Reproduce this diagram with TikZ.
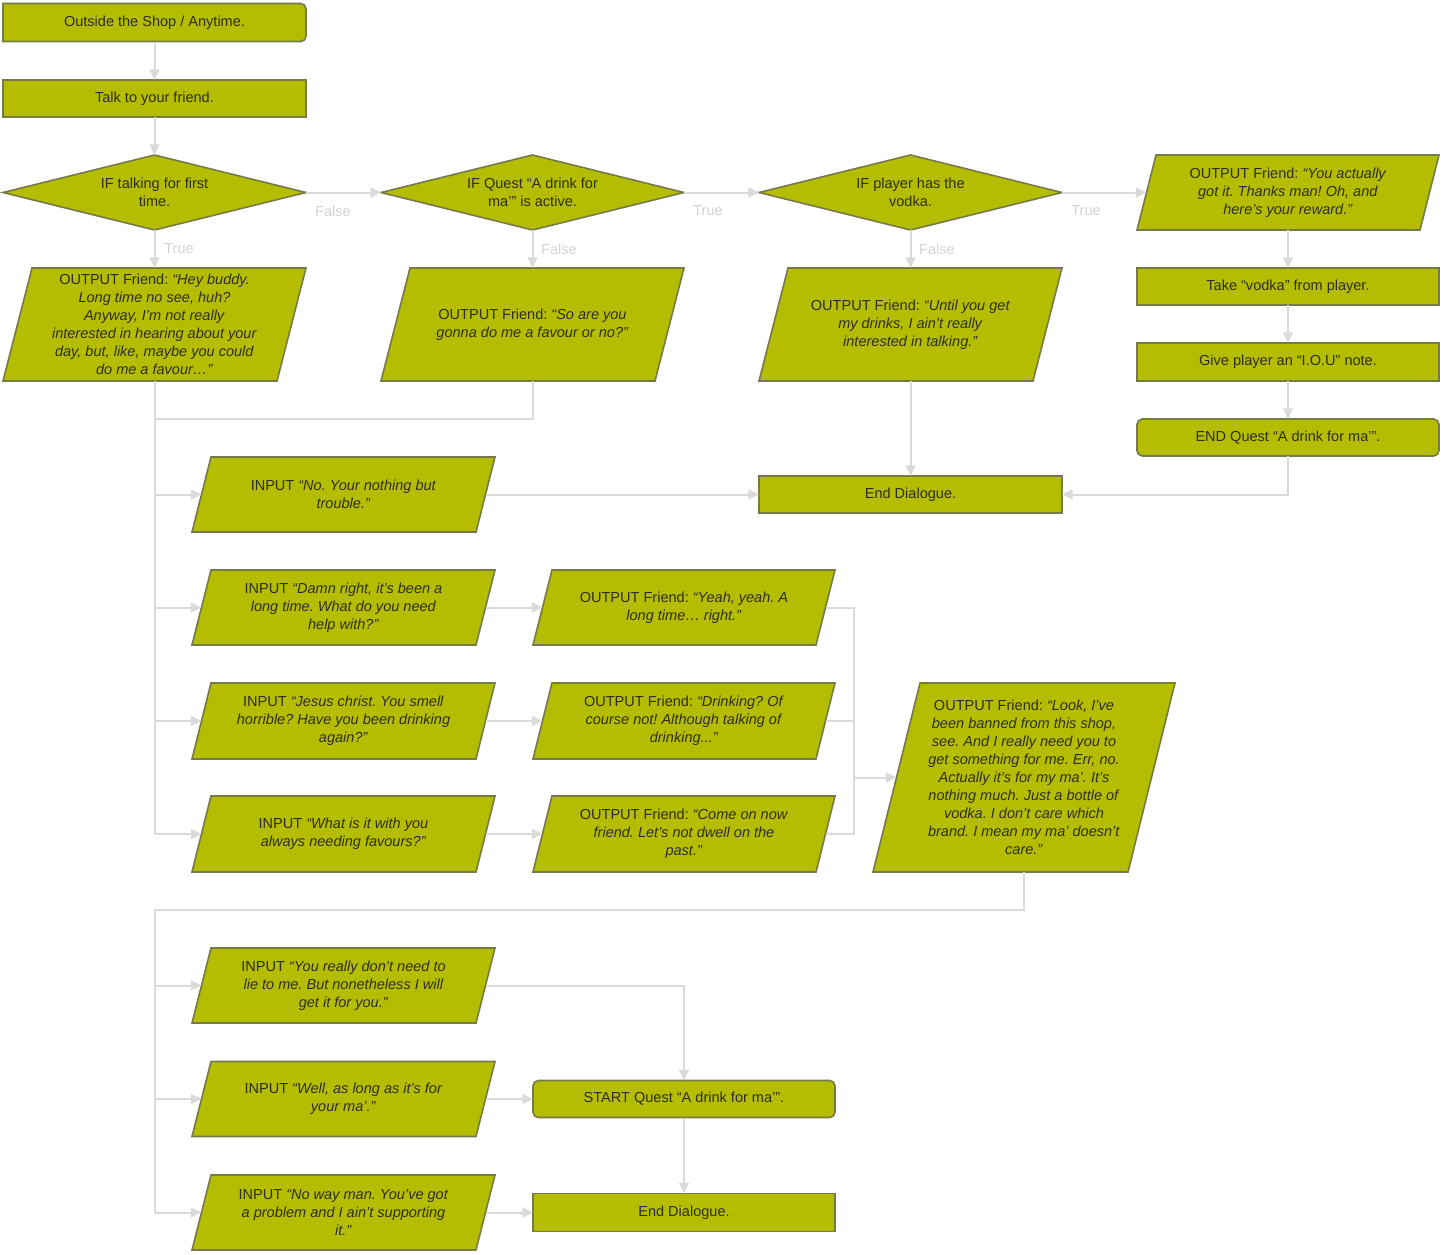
\documentclass[tikz,border=0pt]{standalone}
\usepackage{fontspec}
\setmainfont{Liberation Sans}
\usetikzlibrary{arrows.meta}
\definecolor{olivefill}{HTML}{B5BD00}
\definecolor{bord}{HTML}{767A48}
\definecolor{linec}{HTML}{DADADA}
\definecolor{labc}{HTML}{D2D2D2}
\definecolor{txt}{HTML}{2E2E22}
\pgfdeclarelayer{bg}
\pgfsetlayers{bg,main}
\frenchspacing
\newcommand\pgramof[2]{%
  \filldraw[shapeline] ([xshift=#2*0.75pt]#1.north west) -- (#1.north east) -- ([xshift=-#2*0.75pt]#1.south east) -- (#1.south west) -- cycle;}
\newcommand\diamof[1]{%
  \filldraw[shapeline] (#1.west) -- (#1.north) -- (#1.east) -- (#1.south) -- cycle;}
\tikzset{
  shapeline/.style={fill=olivefill, draw=bord, line width=1.2pt, line join=miter},
  tnode/.style={inner sep=0pt, outer sep=0pt, text=txt, font=\fontsize{10.9}{13.5}\selectfont, align=center},
  hidden/.style={tnode, minimum width=#1*0.75pt},
  rbox/.style={tnode, shapeline, minimum width=#1*0.75pt},
  conn/.style={draw=linec, line width=1.5pt},
  arr/.style={conn, -{Triangle[length=8pt,width=7.5pt]}},
  lab/.style={text=labc, font=\fontsize{10.9}{12}\selectfont, inner sep=0pt},
}
\begin{document}
\begin{tikzpicture}[x=0.75pt,y=-0.75pt]
\useasboundingbox (0,0) rectangle (1443,1254);
% top column
\node[tnode, minimum width=303*0.75pt, minimum height=38*0.75pt] (start) at (154.5,22.5) {Outside the Shop / Anytime.};
\node[rbox=303, minimum height=37*0.75pt] (talk) at (154.5,98.5) {Talk to your friend.};
\node[hidden=303, minimum height=75*0.75pt] (d1) at (154.5,192.5) {IF talking for first\\time.};
\node[hidden=303, minimum height=75*0.75pt] (d2) at (532.5,192.5) {IF Quest “A drink for\\ma’” is active.};
\node[hidden=303, minimum height=75*0.75pt] (d3) at (910.5,192.5) {IF player has the\\vodka.};
\node[hidden=302, minimum height=75*0.75pt] (oyou) at (1288,192.5) {OUTPUT Friend: \textit{“You actually}\\\textit{got it. Thanks man! Oh, and}\\\textit{here’s your reward.”}};
\node[rbox=302, minimum height=37*0.75pt] (take) at (1288,286.5) {Take “vodka” from player.};
\node[rbox=302, minimum height=38*0.75pt] (iou) at (1288,362) {Give player an “I.O.U” note.};
\node[rbox=302, minimum height=37*0.75pt, rounded corners=4pt] (endq) at (1288,437.5) {END Quest “A drink for ma’”.};
% outputs row
\node[hidden=303, minimum height=113*0.75pt] (ohey) at (154.5,324.5) {OUTPUT Friend: \textit{“Hey buddy.}\\\textit{Long time no see, huh?}\\\textit{Anyway, I’m not really}\\\textit{interested in hearing about your}\\\textit{day, but, like, maybe you could}\\\textit{do me a favour…”}};
\node[hidden=303, minimum height=113*0.75pt] (oso) at (532.5,324.5) {OUTPUT Friend: \textit{“So are you}\\\textit{gonna do me a favour or no?”}};
\node[hidden=303, minimum height=113*0.75pt] (ountil) at (910.5,324.5) {OUTPUT Friend: \textit{“Until you get}\\\textit{my drinks, I ain’t really}\\\textit{interested in talking.”}};
\node[rbox=303, minimum height=37*0.75pt] (end1) at (910.5,494.5) {End Dialogue.};
% inputs
\node[hidden=303, minimum height=75*0.75pt] (ino) at (343.5,494.5) {INPUT \textit{“No. Your nothing but}\\\textit{trouble.”}};
\node[hidden=303, minimum height=75*0.75pt] (idamn) at (343.5,607.5) {INPUT \textit{“Damn right, it’s been a}\\\textit{long time. What do you need}\\\textit{help with?”}};
\node[hidden=302, minimum height=75*0.75pt] (oyeah) at (684,607.5) {OUTPUT Friend: \textit{“Yeah, yeah. A}\\\textit{long time… right.”}};
\node[hidden=303, minimum height=76*0.75pt] (ijesus) at (343.5,721) {INPUT \textit{“Jesus christ. You smell}\\\textit{horrible? Have you been drinking}\\\textit{again?”}};
\node[hidden=302, minimum height=76*0.75pt] (odrink) at (684,721) {OUTPUT Friend: \textit{“Drinking? Of}\\\textit{course not! Although talking of}\\\textit{drinking...”}};
\node[hidden=303, minimum height=76*0.75pt] (iwhat) at (343.5,834) {INPUT \textit{“What is it with you}\\\textit{always needing favours?”}};
\node[hidden=302, minimum height=76*0.75pt] (ocome) at (684,834) {OUTPUT Friend: \textit{“Come on now}\\\textit{friend. Let’s not dwell on the}\\\textit{past.”}};
\node[hidden=302, minimum height=189*0.75pt] (olook) at (1024,777.5) {OUTPUT Friend: \textit{“Look, I’ve}\\\textit{been banned from this shop,}\\\textit{see. And I really need you to}\\\textit{get something for me. Err, no.}\\\textit{Actually it’s for my ma’. It’s}\\\textit{nothing much. Just a bottle of}\\\textit{vodka. I don’t care which}\\\textit{brand. I mean my ma’ doesn’t}\\\textit{care.”}};
\node[hidden=303, minimum height=75*0.75pt] (ireally) at (343.5,985.5) {INPUT \textit{“You really don’t need to}\\\textit{lie to me. But nonetheless I will}\\\textit{get it for you.”}};
\node[hidden=303, minimum height=75*0.75pt] (iwell) at (343.5,1099) {INPUT \textit{“Well, as long as it’s for}\\\textit{your ma’.”}};
\node[hidden=303, minimum height=75*0.75pt] (inoway) at (343.5,1212.5) {INPUT \textit{“No way man. You’ve got}\\\textit{a problem and I ain’t supporting}\\\textit{it.”}};
\node[rbox=302, minimum height=37*0.75pt, rounded corners=4pt] (startq) at (684,1099) {START Quest “A drink for ma’”.};
\node[rbox=302, minimum height=38*0.75pt] (end2) at (684,1212.5) {End Dialogue.};
% shapes in background
\begin{pgfonlayer}{bg}
  \filldraw[shapeline] (start.south west) -- (start.north west) [rounded corners=4pt] -- (start.north east) -- (start.south east) [sharp corners] -- cycle;
  \diamof{d1}\diamof{d2}\diamof{d3}
  \pgramof{oyou}{19}
  \pgramof{ohey}{29}\pgramof{oso}{29}\pgramof{ountil}{29}
  \pgramof{ino}{19}\pgramof{idamn}{19}\pgramof{ijesus}{19}\pgramof{iwhat}{19}
  \pgramof{oyeah}{19}\pgramof{odrink}{19}\pgramof{ocome}{19}
  \pgramof{olook}{47}
  \pgramof{ireally}{19}\pgramof{iwell}{19}\pgramof{inoway}{19}
\end{pgfonlayer}
% junction coordinates
\coordinate (j1) at (154.5,419);
\coordinate (mx) at (854,777.5);
\coordinate (k) at (155,910);
% connectors
\draw[arr] (start) -- (talk);
\draw[arr] (talk) -- (d1.north);
\draw[arr] (d1.east) -- (d2.west);
\draw[arr] (d2.east) -- (d3.west);
\draw[arr] (d3.east) -- ([xshift=9.5*0.75pt]oyou.west);
\draw[arr] (d1.south) -- (ohey.north);
\draw[arr] (d2.south) -- (oso.north);
\draw[arr] (d3.south) -- (ountil.north);
\draw[arr] (oyou.south) -- (take.north);
\draw[arr] (take) -- (iou);
\draw[arr] (iou) -- (endq);
\draw[arr] (endq.south) |- (end1.east);
\draw[arr] (ountil.south) -- (end1.north);
\draw[conn] (oso.south) |- (j1);
\draw[conn] (ohey.south) -- (ohey.south |- iwhat.west);
\draw[arr] (ohey.south |- ino.west) -- ([xshift=9.5*0.75pt]ino.west);
\draw[arr] (ohey.south |- idamn.west) -- ([xshift=9.5*0.75pt]idamn.west);
\draw[arr] (ohey.south |- ijesus.west) -- ([xshift=9.5*0.75pt]ijesus.west);
\draw[arr] (ohey.south |- iwhat.west) -- ([xshift=9.5*0.75pt]iwhat.west);
\draw[arr] ([xshift=-9.5*0.75pt]ino.east) -- (end1.west);
\draw[arr] ([xshift=-9.5*0.75pt]idamn.east) -- ([xshift=9.5*0.75pt]oyeah.west);
\draw[arr] ([xshift=-9.5*0.75pt]ijesus.east) -- ([xshift=9.5*0.75pt]odrink.west);
\draw[arr] ([xshift=-9.5*0.75pt]iwhat.east) -- ([xshift=9.5*0.75pt]ocome.west);
\draw[conn] ([xshift=-9.5*0.75pt]oyeah.east) -| (mx);
\draw[conn] ([xshift=-9.5*0.75pt]odrink.east) -| (mx);
\draw[conn] ([xshift=-9.5*0.75pt]ocome.east) -| (mx);
\draw[arr] (mx) -- ([xshift=23.5*0.75pt]olook.west);
\draw[conn] (olook.south) |- (k) -- (k |- inoway.west);
\draw[arr] (k |- ireally.west) -- ([xshift=9.5*0.75pt]ireally.west);
\draw[arr] (k |- iwell.west) -- ([xshift=9.5*0.75pt]iwell.west);
\draw[arr] (k |- inoway.west) -- ([xshift=9.5*0.75pt]inoway.west);
\draw[arr] ([xshift=-9.5*0.75pt]ireally.east) -| (startq.north);
\draw[arr] ([xshift=-9.5*0.75pt]iwell.east) -- (startq.west);
\draw[arr] ([xshift=-9.5*0.75pt]inoway.east) -- (end2.west);
\draw[arr] (startq.south) -- (end2.north);
% labels
\node[lab] (lf1) at (333,211) {False};
\node[lab] (lt2) at (708,211) {True};
\node[lab] (lt3) at (1086,211) {True};
\node[lab] (lt1) at (179,249) {True};
\node[lab] (lf2) at (559,249) {False};
\node[lab] (lf3) at (937,249) {False};
\end{tikzpicture}
\end{document}
